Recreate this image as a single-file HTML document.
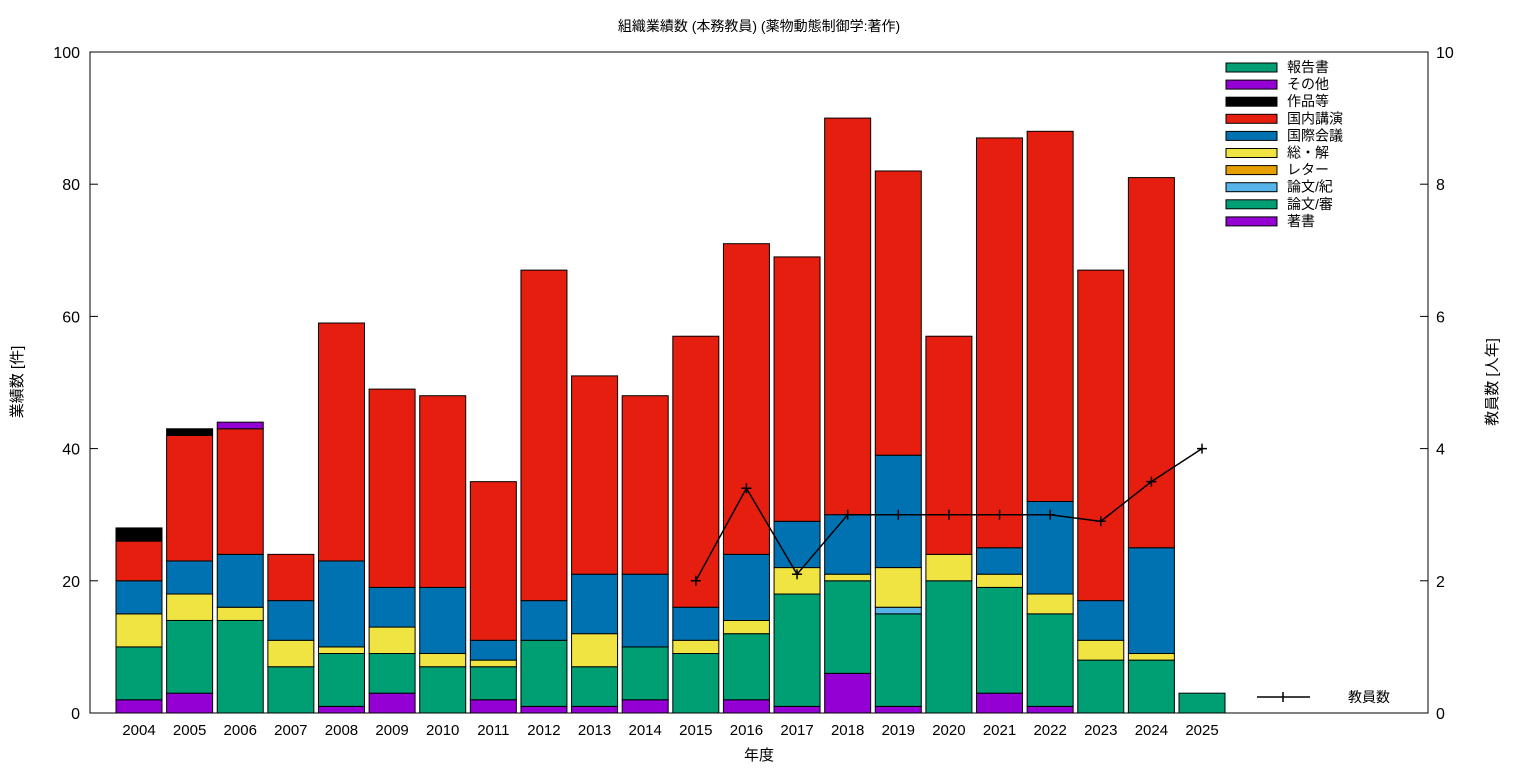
<!DOCTYPE html>
<html><head><meta charset="utf-8">
<style>
body{margin:0;background:#fff;}
svg text{font-family:"Liberation Sans","Noto Sans CJK JP",sans-serif;fill:#000;}
</style></head>
<body>
<svg id="chart" width="1536" height="768" xmlns="http://www.w3.org/2000/svg">
<text x="759" y="31" font-size="14" text-anchor="middle">組織業績数 (本務教員) (薬物動態制御学:著作)</text>
<g id="grid"></g>
<g id="bars"></g>
<g id="line"></g>
<g id="axes"></g>
<g id="legend"></g>
</svg>
<script>
const years = ['2004','2005','2006','2007','2008','2009','2010','2011','2012','2013','2014','2015','2016','2017','2018','2019','2020','2021','2022','2023','2024','2025'];
const chosho    = [2,3,0,0,1,3,0,2,1,1,2,0,2,1,6,1,0,3,1,0,0,0];
const ronbunShin= [8,11,14,7,8,6,7,5,10,6,8,9,10,17,14,14,20,16,14,8,8,0];
const ronbunKi  = [0,0,0,0,0,0,0,0,0,0,0,0,0,0,0,1,0,0,0,0,0,0];
const letter    = [0,0,0,0,0,0,0,0,0,0,0,0,0,0,0,0,0,0,0,0,0,0];
const soukai    = [5,4,2,4,1,4,2,1,0,5,0,2,2,4,1,6,4,2,3,3,1,0];
const kokusai   = [5,5,8,6,13,6,10,3,6,9,11,5,10,7,9,17,0,4,14,6,16,0];
const kokunai   = [6,19,19,7,36,30,29,24,50,30,27,41,47,40,60,43,33,62,56,50,56,0];
const sakuhin   = [2,1,0,0,0,0,0,0,0,0,0,0,0,0,0,0,0,0,0,0,0,0];
const sonota    = [0,0,1,0,0,0,0,0,0,0,0,0,0,0,0,0,0,0,0,0,0,0];
const houkoku   = [0,0,0,0,0,0,0,0,0,0,0,0,0,0,0,0,0,0,0,0,0,3];
const staff     = [null,null,null,null,null,null,null,null,null,null,null,2.0,3.4,2.1,3.0,3.0,3.0,3.0,3.0,2.9,3.5,4.0];
const yTicks = [0,20,40,60,80,100];
const y2Ticks = [0,2,4,6,8,10];

const series = [
 {name:'著書',v:chosho,c:'#9400d3',k:'chosho'},
 {name:'論文/審',v:ronbunShin,c:'#009e73',k:'ronbun-shin'},
 {name:'論文/紀',v:ronbunKi,c:'#56b4e9',k:'ronbun-ki'},
 {name:'レター',v:letter,c:'#e69f00',k:'letter'},
 {name:'総・解',v:soukai,c:'#f0e442',k:'soukai'},
 {name:'国際会議',v:kokusai,c:'#0072b2',k:'kokusai'},
 {name:'国内講演',v:kokunai,c:'#e51e10',k:'kokunai'},
 {name:'作品等',v:sakuhin,c:'#000000',k:'sakuhin'},
 {name:'その他',v:sonota,c:'#9400d3',k:'sonota'},
 {name:'報告書',v:houkoku,c:'#009e73',k:'houkoku'}
];
const L=90,R=1428,T=52,B=713;
const x0=139, dx=(1202-139)/21, bw=46;
const xs=i=>x0+i*dx;
const ys=v=>B-(B-T)*v/100;
const ys2=v=>B-(B-T)*v/10;
const NS='http://www.w3.org/2000/svg';
function mk(tag,attrs,parent){const e=document.createElementNS(NS,tag);for(const k in attrs)e.setAttribute(k,attrs[k]);parent.appendChild(e);return e;}
const bars=document.getElementById('bars'),axes=document.getElementById('axes'),lg=document.getElementById('legend'),ln=document.getElementById('line');
years.forEach((y,i)=>{
  let cum=0;
  series.forEach(s=>{
    const v=s.v[i]; if(!v) return;
    const r=mk('rect',{x:xs(i)-bw/2,y:ys(cum+v),width:bw,height:ys(cum)-ys(cum+v),fill:s.c,stroke:'#000','stroke-width':1},bars);
    
    
    cum+=v;
  });
  const t=mk('text',{x:xs(i),y:735,'font-size':15,'text-anchor':'middle'},axes);t.textContent=y;
  
  
});
const frame=mk('rect',{x:L,y:T,width:R-L,height:B-T,fill:'none',stroke:'#000','stroke-width':1},axes);


yTicks.forEach(v=>{
  mk('line',{x1:L,x2:L+8,y1:ys(v),y2:ys(v),stroke:'#000'},axes);
  mk('line',{x1:R,x2:R-8,y1:ys(v),y2:ys(v),stroke:'#000'},axes);
  const t=mk('text',{x:L-10,y:ys(v)+6,'font-size':16,'text-anchor':'end'},axes);t.textContent=v;
  
  
});
y2Ticks.forEach(v=>{
  const t=mk('text',{x:R+8,y:ys2(v)+6,'font-size':16},axes);t.textContent=v;
  
  
});
const xt=mk('text',{x:759,y:760,'font-size':15,'text-anchor':'middle'},axes);xt.textContent='年度';


const yt=mk('text',{x:22,y:382,'font-size':15,'text-anchor':'middle',transform:'rotate(-90 22 382)'},axes);yt.textContent='業績数 [件]';


const yt2=mk('text',{x:1497,y:382,'font-size':15,'text-anchor':'middle',transform:'rotate(-90 1497 382)'},axes);yt2.textContent='教員数 [人年]';


// staff line
let pts=[];
staff.forEach((v,i)=>{if(v!==null)pts.push([xs(i),ys2(v)]);});
const pl=mk('polyline',{points:pts.map(p=>p.join(',')).join(' '),fill:'none',stroke:'#000','stroke-width':1.5},ln);


pts.forEach(p=>{
  const g=mk('path',{d:`M${p[0]-5},${p[1]}h10M${p[0]},${p[1]-5}v10`,stroke:'#000','stroke-width':1.5},ln);
  
  
});
// legend
series.slice().reverse().forEach((s,j)=>{
  const yy=67+j*17.1;
  const r=mk('rect',{x:1226,y:yy-4,width:51,height:9,fill:s.c,stroke:'#000'},lg);
  
  
  const t=mk('text',{x:1287,y:yy+5,'font-size':14},lg);t.textContent=s.name;
  
  
});
const ll=mk('path',{d:'M1257,697h53M1283,692v10',stroke:'#000','stroke-width':1.5},lg);


const lt=mk('text',{x:1348,y:702,'font-size':14},lg);lt.textContent='教員数';


</script>
</body></html>
